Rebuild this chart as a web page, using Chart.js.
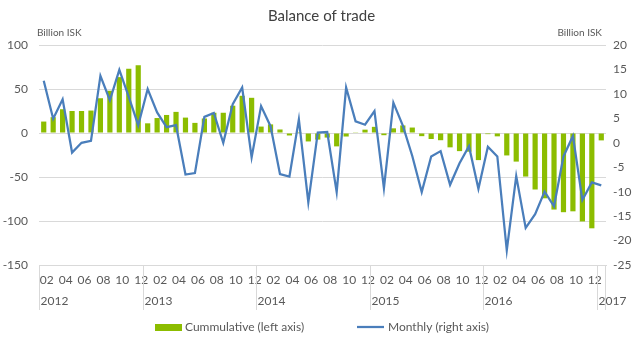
<!DOCTYPE html>
<html>
<head>
<meta charset="utf-8">
<script src="https://cdn.jsdelivr.net/npm/chart.js@4.4.1/dist/chart.umd.min.js"></script>
<style>
  html, body { margin: 0; padding: 0; background: #fff; }
  #wrap { width: 643px; height: 340px; }
</style>
</head>
<body>
<div id="wrap"><canvas id="chart" width="643" height="340"></canvas></div>
<script>
// Months Feb 2012 .. Jan 2017
const years = ["2012", "2013", "2014", "2015", "2016", "2017"];
const categories = [];
years.forEach((y) => {
  for (let m = 1; m <= 12; m++) {
    if (y === "2012" && m < 2) continue;
    if (y === "2017" && m > 1) continue;
    categories.push(y + "-" + String(m).padStart(2, "0"));
  }
});

// Cumulative trade balance, year to date (left axis, billion ISK)
const cumulative = [
  13, 18, 27, 25, 25, 25.5, 39.5, 48, 63.5, 73, 77,
  11, 17, 20.5, 24, 17.5, 11.5, 16.5, 23, 23, 31, 42.3, 40,
  7.3, 9.8, 4, -2.8, 1.2, -9.6, -7.5, -5.2, -15.2, -4, 0.3, 3.8,
  7, -2.5, 5.3, 8.6, 6.2, -3.6, -6.8, -8.2, -16.3, -20.6, -21.2, -30.8,
  -1.3, -3.8, -25.5, -32.5, -49.5, -64.2, -74.2, -87, -90, -89, -100.5, -108.3,
  -8.4,
];

// Monthly trade balance (right axis, billion ISK)
const monthly = [
  12.7, 4.9, 8.9, -2.0, 0, 0.4, 13.7, 8.7, 14.9, 9.4, 3.6,
  11, 6.2, 3.2, 3.6, -6.5, -6.2, 5.3, 6.1, 0, 7.9, 11.3, -3.0,
  7.5, 3.4, -6.4, -6.9, 4.8, -12.2, 2.1, 2.2, -10.1, 11.3, 4.4, 3.7,
  6.5, -9.3, 8.2, 3.5, -2.7, -10.1, -2.8, -1.7, -8.6, -4.2, -0.7, -9.4,
  -0.8, -2.8, -22, -6.8, -17.4, -14.6, -10, -13, -2.8, 1.4, -11.7, -8.1,
  -8.7,
];

const FONT = "Lato, 'Liberation Sans', sans-serif";
const TEXT = "#595959";
const GRID = "#d9d9d9";

// year labels, separators, unit captions and legend
const extras = {
  id: "extras",
  afterDraw(chart) {
    const ctx = chart.ctx;
    const x = chart.scales.x;
    const area = chart.chartArea;
    const half = (x.getPixelForValue(1) - x.getPixelForValue(0)) / 2;
    ctx.save();

    // year separators + year labels
    ctx.strokeStyle = GRID;
    ctx.lineWidth = 1;
    ctx.fillStyle = TEXT;
    ctx.font = "12px " + FONT;
    ctx.textBaseline = "middle";
    ctx.textAlign = "left";
    years.forEach((y) => {
      const idx = categories.findIndex((c) => c.startsWith(y));
      const left = Math.round(x.getPixelForValue(idx) - half) + 0.5;
      ctx.beginPath();
      ctx.moveTo(left, area.bottom);
      ctx.lineTo(left, area.bottom + 45);
      ctx.stroke();
      ctx.fillText(y, left + 1, 301);
    });
    const right = Math.round(x.getPixelForValue(categories.length - 1) + half) - 0.5;
    ctx.beginPath();
    ctx.moveTo(right, area.bottom);
    ctx.lineTo(right, area.bottom + 45);
    ctx.stroke();

    // unit captions
    ctx.font = "10px " + FONT;
    ctx.fillText("Billion ISK", 37, 33);
    ctx.textAlign = "right";
    ctx.fillText("Billion ISK", 602, 33);

    // legend
    const ds = chart.data.datasets;
    ctx.textAlign = "left";
    ctx.font = "12px " + FONT;
    ctx.fillStyle = ds[0].backgroundColor;
    ctx.fillRect(155, 324, 27, 7);
    ctx.fillStyle = TEXT;
    ctx.fillText(ds[0].label, 185, 327);
    ctx.strokeStyle = ds[1].borderColor;
    ctx.lineWidth = 2.25;
    ctx.beginPath();
    ctx.moveTo(357, 327);
    ctx.lineTo(384, 327);
    ctx.stroke();
    ctx.fillText(ds[1].label, 388, 327);
    ctx.restore();
  },
};

new Chart(document.getElementById("chart"), {
  type: "bar",
  data: {
    labels: categories,
    datasets: [
      {
        type: "line",
        label: "Monthly (right axis)",
        data: monthly,
        yAxisID: "yR",
        borderColor: "#4a7ebb",
        borderWidth: 2.25,
        pointRadius: 0,
        tension: 0,
        order: 1,
      },
      {
        type: "bar",
        label: "Cummulative (left axis)",
        data: cumulative,
        yAxisID: "yL",
        backgroundColor: "#8cbd00",
        barPercentage: 0.55,
        categoryPercentage: 1,
        order: 2,
      },
    ].reverse(),
  },
  options: {
    responsive: false,
    animation: false,
    layout: { padding: 0 },
    plugins: {
      title: {
        display: true,
        text: "Balance of trade",
        color: "#404040",
        font: { family: FONT, size: 15, weight: "normal" },
        padding: { top: 7, bottom: 20 },
      },
      legend: { display: false },
      tooltip: { enabled: false },
    },
    scales: {
      x: {
        offset: true,
        grid: { display: false, drawTicks: false },
        border: { display: true, color: GRID },
        ticks: {
          autoSkip: false,
          maxRotation: 0,
          minRotation: 0,
          padding: 8,
          labelOffset: 3,
          color: TEXT,
          font: { family: FONT, size: 12 },
          callback: (v, i) => (i % 2 === 0 ? categories[i].slice(5) : ""),
        },
        afterFit: (s) => { s.height = 75; },
      },
      yL: {
        position: "left",
        min: -150,
        max: 100,
        grid: { color: GRID, drawTicks: false },
        border: { display: false },
        ticks: {
          stepSize: 50,
          padding: 11,
          color: TEXT,
          font: { family: FONT, size: 12 },
        },
        afterFit: (s) => { s.width = 39; },
      },
      yR: {
        position: "right",
        min: -25,
        max: 20,
        grid: { display: false, drawTicks: false },
        border: { display: false },
        ticks: {
          stepSize: 5,
          padding: 7,
          color: TEXT,
          font: { family: FONT, size: 12 },
        },
        afterFit: (s) => { s.width = 37; },
      },
    },
  },
  plugins: [extras],
});
</script>
</body>
</html>
